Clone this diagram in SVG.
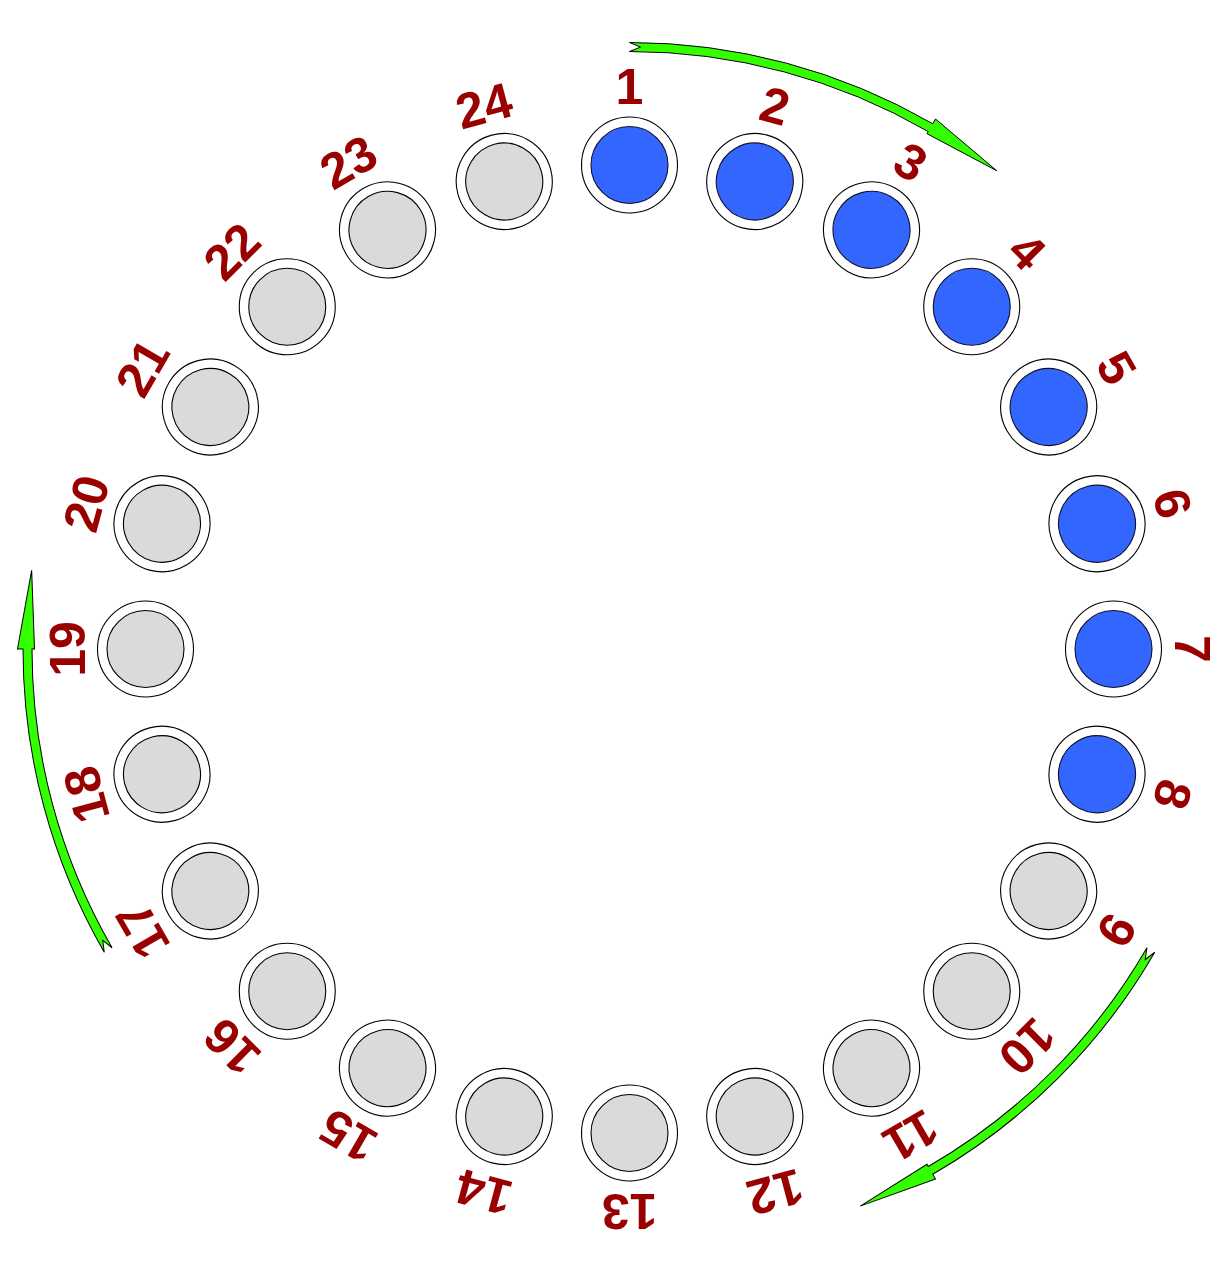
<svg xmlns="http://www.w3.org/2000/svg" xmlns:xlink="http://www.w3.org/1999/xlink" width="1232" height="1272" viewBox="0 0 1232 1272">
<style>
.ring{fill:#ffffff;stroke:#000000;stroke-width:1.1}
.on{fill:#3366ff;stroke:#101030;stroke-width:1.1}
.off{fill:#dadada;stroke:#000000;stroke-width:1.1}
.lbl{font-family:"Liberation Sans",Arial,sans-serif;font-weight:bold;font-size:50px;fill:#990000;text-anchor:middle}
.arr{fill:#33ff00;stroke:#000000;stroke-width:1;stroke-linejoin:miter}
</style>
<defs>
<path id="arrow" class="arr" d="M0,-606.5 L11.03,-601.9 L0,-597.5 A597.5,597.5 0 0 1 298.75,-517.45 L297.5,-515.29 L367.08,-478.39 L306,-530.01 L303.25,-525.25 A606.5,606.5 0 0 0 0,-606.5 Z"/>
</defs>
<rect width="1232" height="1272" fill="#ffffff"/>
<g id="connectors">
<g transform="translate(629.5 649)">
<use xlink:href="#arrow" href="#arrow"/>
<use xlink:href="#arrow" href="#arrow" transform="rotate(120)"/>
<use xlink:href="#arrow" href="#arrow" transform="rotate(240)"/>
</g>
</g>
<g id="n1" transform="rotate(0 629.5 649)"><circle class="ring" cx="629.5" cy="165" r="48"/><circle class="on" cx="629.5" cy="165" r="38.5"/><text class="lbl" x="629.5" y="104">1</text></g>
<g id="n2" transform="rotate(15 629.5 649)"><circle class="ring" cx="629.5" cy="165" r="48"/><circle class="on" cx="629.5" cy="165" r="38.5"/><text class="lbl" x="629.5" y="104">2</text></g>
<g id="n3" transform="rotate(30 629.5 649)"><circle class="ring" cx="629.5" cy="165" r="48"/><circle class="on" cx="629.5" cy="165" r="38.5"/><text class="lbl" x="629.5" y="104">3</text></g>
<g id="n4" transform="rotate(45 629.5 649)"><circle class="ring" cx="629.5" cy="165" r="48"/><circle class="on" cx="629.5" cy="165" r="38.5"/><text class="lbl" x="629.5" y="104">4</text></g>
<g id="n5" transform="rotate(60 629.5 649)"><circle class="ring" cx="629.5" cy="165" r="48"/><circle class="on" cx="629.5" cy="165" r="38.5"/><text class="lbl" x="629.5" y="104">5</text></g>
<g id="n6" transform="rotate(75 629.5 649)"><circle class="ring" cx="629.5" cy="165" r="48"/><circle class="on" cx="629.5" cy="165" r="38.5"/><text class="lbl" x="629.5" y="104">6</text></g>
<g id="n7" transform="rotate(90 629.5 649)"><circle class="ring" cx="629.5" cy="165" r="48"/><circle class="on" cx="629.5" cy="165" r="38.5"/><text class="lbl" x="629.5" y="104">7</text></g>
<g id="n8" transform="rotate(105 629.5 649)"><circle class="ring" cx="629.5" cy="165" r="48"/><circle class="on" cx="629.5" cy="165" r="38.5"/><text class="lbl" x="629.5" y="104">8</text></g>
<g id="n9" transform="rotate(120 629.5 649)"><circle class="ring" cx="629.5" cy="165" r="48"/><circle class="off" cx="629.5" cy="165" r="38.5"/><text class="lbl" x="629.5" y="104">9</text></g>
<g id="n10" transform="rotate(135 629.5 649)"><circle class="ring" cx="629.5" cy="165" r="48"/><circle class="off" cx="629.5" cy="165" r="38.5"/><text class="lbl" x="629.5" y="104">10</text></g>
<g id="n11" transform="rotate(150 629.5 649)"><circle class="ring" cx="629.5" cy="165" r="48"/><circle class="off" cx="629.5" cy="165" r="38.5"/><text class="lbl" x="629.5" y="104">11</text></g>
<g id="n12" transform="rotate(165 629.5 649)"><circle class="ring" cx="629.5" cy="165" r="48"/><circle class="off" cx="629.5" cy="165" r="38.5"/><text class="lbl" x="629.5" y="104">12</text></g>
<g id="n13" transform="rotate(180 629.5 649)"><circle class="ring" cx="629.5" cy="165" r="48"/><circle class="off" cx="629.5" cy="165" r="38.5"/><text class="lbl" x="629.5" y="104">13</text></g>
<g id="n14" transform="rotate(195 629.5 649)"><circle class="ring" cx="629.5" cy="165" r="48"/><circle class="off" cx="629.5" cy="165" r="38.5"/><text class="lbl" x="629.5" y="104">14</text></g>
<g id="n15" transform="rotate(210 629.5 649)"><circle class="ring" cx="629.5" cy="165" r="48"/><circle class="off" cx="629.5" cy="165" r="38.5"/><text class="lbl" x="629.5" y="104">15</text></g>
<g id="n16" transform="rotate(225 629.5 649)"><circle class="ring" cx="629.5" cy="165" r="48"/><circle class="off" cx="629.5" cy="165" r="38.5"/><text class="lbl" x="629.5" y="104">16</text></g>
<g id="n17" transform="rotate(240 629.5 649)"><circle class="ring" cx="629.5" cy="165" r="48"/><circle class="off" cx="629.5" cy="165" r="38.5"/><text class="lbl" x="629.5" y="104">17</text></g>
<g id="n18" transform="rotate(255 629.5 649)"><circle class="ring" cx="629.5" cy="165" r="48"/><circle class="off" cx="629.5" cy="165" r="38.5"/><text class="lbl" x="629.5" y="104">18</text></g>
<g id="n19" transform="rotate(270 629.5 649)"><circle class="ring" cx="629.5" cy="165" r="48"/><circle class="off" cx="629.5" cy="165" r="38.5"/><text class="lbl" x="629.5" y="104">19</text></g>
<g id="n20" transform="rotate(285 629.5 649)"><circle class="ring" cx="629.5" cy="165" r="48"/><circle class="off" cx="629.5" cy="165" r="38.5"/><text class="lbl" x="629.5" y="104">20</text></g>
<g id="n21" transform="rotate(300 629.5 649)"><circle class="ring" cx="629.5" cy="165" r="48"/><circle class="off" cx="629.5" cy="165" r="38.5"/><text class="lbl" x="629.5" y="104">21</text></g>
<g id="n22" transform="rotate(315 629.5 649)"><circle class="ring" cx="629.5" cy="165" r="48"/><circle class="off" cx="629.5" cy="165" r="38.5"/><text class="lbl" x="629.5" y="104">22</text></g>
<g id="n23" transform="rotate(330 629.5 649)"><circle class="ring" cx="629.5" cy="165" r="48"/><circle class="off" cx="629.5" cy="165" r="38.5"/><text class="lbl" x="629.5" y="104">23</text></g>
<g id="n24" transform="rotate(345 629.5 649)"><circle class="ring" cx="629.5" cy="165" r="48"/><circle class="off" cx="629.5" cy="165" r="38.5"/><text class="lbl" x="629.5" y="104">24</text></g>
</svg>
